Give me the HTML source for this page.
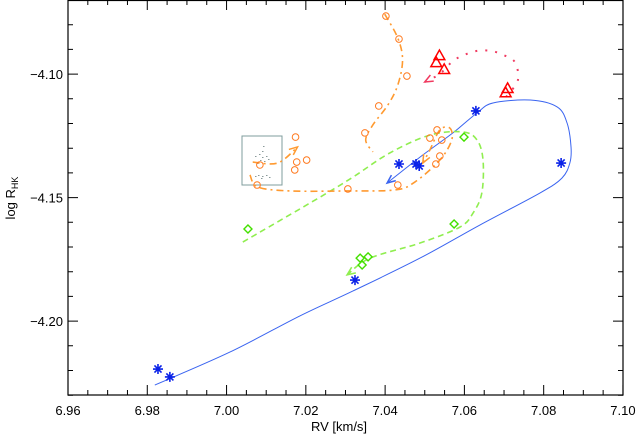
<!DOCTYPE html>
<html><head><meta charset="utf-8"><style>
body{margin:0;background:#fff;}
svg{display:block;font-family:"Liberation Sans",sans-serif;}
</style></head><body>
<svg id="chart" width="637" height="436" viewBox="0 0 637 436" xmlns="http://www.w3.org/2000/svg">
<rect x="0" y="0" width="637" height="436" fill="#fff"/>
<g id="plot"></g>
<g id="axes"></g>
<text x="339" y="431" font-size="13" text-anchor="middle" fill="#000">RV [km/s]</text>
<text transform="translate(15,198) rotate(-90)" font-size="13" text-anchor="middle" fill="#000">log R<tspan font-size="9" dy="3">HK</tspan></text>
</svg>
<script>
const xTicks = [6.96, 6.98, 7.00, 7.02, 7.04, 7.06, 7.08, 7.10];
const xTickLabels = ["6.96","6.98","7.00","7.02","7.04","7.06","7.08","7.10"];
const yTicks = [-4.10, -4.15, -4.20];
const yTickLabels = ["-4.10","-4.15","-4.20"];

const blueLineX = [6.9819,7.0009,7.0185,7.0319,7.0488,7.0639,7.0791,7.0846,7.0866,7.0869,7.0859,7.0834,7.0766,7.0672,7.0632,7.0571,7.0488,7.0405];
const blueLineY = [-4.2259,-4.2125,-4.1979,-4.1878,-4.1745,-4.1611,-4.1481,-4.1421,-4.1360,-4.1295,-4.1198,-4.1133,-4.1105,-4.1117,-4.1157,-4.1238,-4.1336,-4.1441];
const blueStarX = [6.9827,6.9857,7.0324,7.0435,7.0478,7.0486,7.0629,7.0844];
const blueStarY = [-4.2194,-4.2226,-4.1834,-4.1364,-4.1364,-4.1372,-4.1149,-4.1360];

const greenLineX = [7.0041,7.0236,7.0319,7.0412,7.0513,7.0596,7.0632,7.0647,7.0644,7.0622,7.0589,7.0488,7.0362,7.0304];
const greenLineY = [-4.1680,-4.1498,-4.1417,-4.1319,-4.1247,-4.1234,-4.1267,-4.1348,-4.1481,-4.1562,-4.1619,-4.1684,-4.1745,-4.1813];
const greenDiamondX = [7.0054,7.0599,7.0574,7.0337,7.0357,7.0342];
const greenDiamondY = [-4.1627,-4.1255,-4.1607,-4.1745,-4.1740,-4.1773];

const orangeLineAX = [7.0399,7.0432,7.0444,7.0432,7.0407,7.0369,7.0351,7.0369];
const orangeLineAY = [-4.0757,-4.0854,-4.0943,-4.1044,-4.1125,-4.1206,-4.1267,-4.1315];
const orangeLineBX = [7.0059,7.0079,7.0160,7.0304,7.0425,7.0475,7.0538,7.0568,7.0563,7.0538,7.0513,7.0495];
const orangeLineBY = [-4.1408,-4.1457,-4.1473,-4.1473,-4.1469,-4.1437,-4.1348,-4.1267,-4.1218,-4.1226,-4.1307,-4.1360];
const orangeLineCX = [7.0066,7.0129,7.0179];
const orangeLineCY = [-4.1356,-4.1360,-4.1295];
const orangeCircleX = [7.0402,7.0435,7.0455,7.0384,7.0349,7.0174,7.0177,7.0202,7.0172,7.0084,7.0077,7.0306,7.0432,7.0531,7.0513,7.0543,7.0538,7.0528];
const orangeCircleY = [-4.0765,-4.0858,-4.1008,-4.1129,-4.1238,-4.1255,-4.1356,-4.1348,-4.1388,-4.1368,-4.1449,-4.1465,-4.1449,-4.1226,-4.1259,-4.1267,-4.1332,-4.1364];

const redLineX = [7.0705,7.0735,7.0727,7.0699,7.0667,7.0632,7.0599,7.0571,7.0538,7.0500];
const redLineY = [-4.1093,-4.1024,-4.0951,-4.0923,-4.0906,-4.0906,-4.0923,-4.0947,-4.0999,-4.1032];
const redTriX = [7.0537,7.0529,7.0549,7.0709,7.0704];
const redTriY = [-4.0927,-4.0955,-4.0983,-4.1060,-4.1077];

const NS = "http://www.w3.org/2000/svg";
const X = v => 68 + (v - 6.96) * 3964;
const Y = v => (-4.07 - v) * 2470;
const plot = document.getElementById('plot');
const axes = document.getElementById('axes');
function mk(tag, attrs, parent){const e=document.createElementNS(NS,tag);for(const k in attrs)e.setAttribute(k,attrs[k]);parent.appendChild(e);return e;}
function smooth(xs, ys){
  const p = xs.map((x,i)=>[X(x),Y(ys[i])]);
  let d = `M${p[0][0]},${p[0][1]}`;
  for(let i=0;i<p.length-1;i++){
    const p0=p[Math.max(0,i-1)],p1=p[i],p2=p[i+1],p3=p[Math.min(p.length-1,i+2)];
    const c1=[p1[0]+(p2[0]-p0[0])/6,p1[1]+(p2[1]-p0[1])/6];
    const c2=[p2[0]-(p3[0]-p1[0])/6,p2[1]-(p3[1]-p1[1])/6];
    d+=` C${c1[0]},${c1[1]} ${c2[0]},${c2[1]} ${p2[0]},${p2[1]}`;
  }
  return d;
}
function arrowHead(xs, ys, color, g){
  const n=xs.length;
  const x1=X(xs[n-2]),y1=Y(ys[n-2]),x2=X(xs[n-1]),y2=Y(ys[n-1]);
  const a=Math.atan2(y2-y1,x2-x1), L=9;
  const d=`M${x2-L*Math.cos(a-0.4)},${y2-L*Math.sin(a-0.4)} L${x2},${y2} L${x2-L*Math.cos(a+0.4)},${y2-L*Math.sin(a+0.4)}`;
  const e=mk('path',{d:d,fill:'none',stroke:color,'stroke-width':1.5},g);
  
  
}

// box inset
const box = mk('rect',{x:242,y:136,width:40,height:49,fill:'none',stroke:'#7f9c9c','stroke-width':1},plot);


const dotsG = mk('g',{fill:'#9aa'},plot);


[[255,156],[259,154],[262,157],[266,156],[260,160],[264,161],[268,159],[257,163],[262,151],[263,146],[258,175],[262,176],[266,175],[269,177],[261,178],[255,176]].forEach(p=>mk('rect',{x:p[0],y:p[1],width:1.5,height:1,fill:'#8a9a9a'},dotsG));

// blue
const blueG = mk('g',{},plot);


const bl = mk('path',{d:smooth(blueLineX,blueLineY),fill:'none',stroke:'#3a64f0','stroke-width':1},blueG);


arrowHead(blueLineX,blueLineY,'#3a64f0',blueG);
blueStarX.forEach((v,i)=>{
  const cx=X(v),cy=Y(blueStarY[i]),r=5;
  let d='';
  for(let k=0;k<4;k++){const a=k*Math.PI/4;d+=`M${cx-r*Math.cos(a)},${cy-r*Math.sin(a)} L${cx+r*Math.cos(a)},${cy+r*Math.sin(a)} `;}
  const s=mk('path',{d:d,stroke:'#0a22e8','stroke-width':1.6,fill:'none'},blueG);
  
  
});

// green
const greenG = mk('g',{},plot);


const gl = mk('path',{d:smooth(greenLineX,greenLineY),fill:'none',stroke:'#90ee50','stroke-width':1.6,'stroke-dasharray':'6,4'},greenG);


arrowHead(greenLineX,greenLineY,'#90ee50',greenG);
greenDiamondX.forEach((v,i)=>{
  const cx=X(v),cy=Y(greenDiamondY[i]),r=4;
  const s=mk('path',{d:`M${cx},${cy-r} L${cx+r},${cy} L${cx},${cy+r} L${cx-r},${cy} Z`,stroke:'#44e000','stroke-width':1.4,fill:'none'},greenG);
  
  
});

// orange
const orG = mk('g',{},plot);


[[orangeLineAX,orangeLineAY,false],[orangeLineBX,orangeLineBY,true],[orangeLineCX,orangeLineCY,true]].forEach(s=>{
  const l=mk('path',{d:smooth(s[0],s[1]),fill:'none',stroke:'#ff9a30','stroke-width':1.6,'stroke-dasharray':'7,4,2,4'},orG);
  
  
  if(s[2]) arrowHead(s[0],s[1],'#ff9a30',orG);
});
orangeCircleX.forEach((v,i)=>{
  const c=mk('circle',{cx:X(v),cy:Y(orangeCircleY[i]),r:3.3,fill:'none',stroke:'#ff7a20','stroke-width':1},orG);
  
  
});

// red
const redG = mk('g',{},plot);


const rl = mk('path',{d:smooth(redLineX,redLineY),fill:'none',stroke:'#f03a60','stroke-width':2,'stroke-dasharray':'2,8'},redG);


arrowHead(redLineX,redLineY,'#f03a60',redG);
redTriX.forEach((v,i)=>{
  const cx=X(v),cy=Y(redTriY[i]),r=6;
  const t=mk('path',{d:`M${cx},${cy-r} L${cx+r*0.9},${cy+r*0.6} L${cx-r*0.9},${cy+r*0.6} Z`,stroke:'#ff0000','stroke-width':1.5,fill:'none'},redG);
  
  
});

// axes frame
const fr = mk('rect',{x:68,y:0.5,width:555,height:394.5,fill:'none',stroke:'#000','stroke-width':1.2},axes);


for(let v=6.96;v<=7.1001;v+=0.005){
  const x=X(v), maj=Math.abs(Math.round(v*50)-v*50)<1e-6, L=maj?10:5;
  const t=mk('path',{d:`M${x},395 V${395-L} M${x},0 V${L}`,stroke:'#000','stroke-width':1},axes);
  
  
}
for(let v=-4.23;v<=-4.0699;v+=0.01){
  const y=Y(v), maj=Math.abs(Math.round(v*20)-v*20)<1e-6, L=maj?10:5;
  const t=mk('path',{d:`M68,${y} H${68+L} M623,${y} H${623-L}`,stroke:'#000','stroke-width':1},axes);
  
  
}
xTicks.forEach((v,i)=>{
  const t=mk('text',{x:X(v),y:415,'font-size':13,'text-anchor':'middle',fill:'#000'},axes);
  t.textContent=xTickLabels[i];
  
  
});
yTicks.forEach((v,i)=>{
  const t=mk('text',{x:63,y:Y(v)+5,'font-size':13,'text-anchor':'end',fill:'#000'},axes);
  t.textContent=yTickLabels[i].replace('-','\u2212');
  
  
});
</script>
</body></html>
